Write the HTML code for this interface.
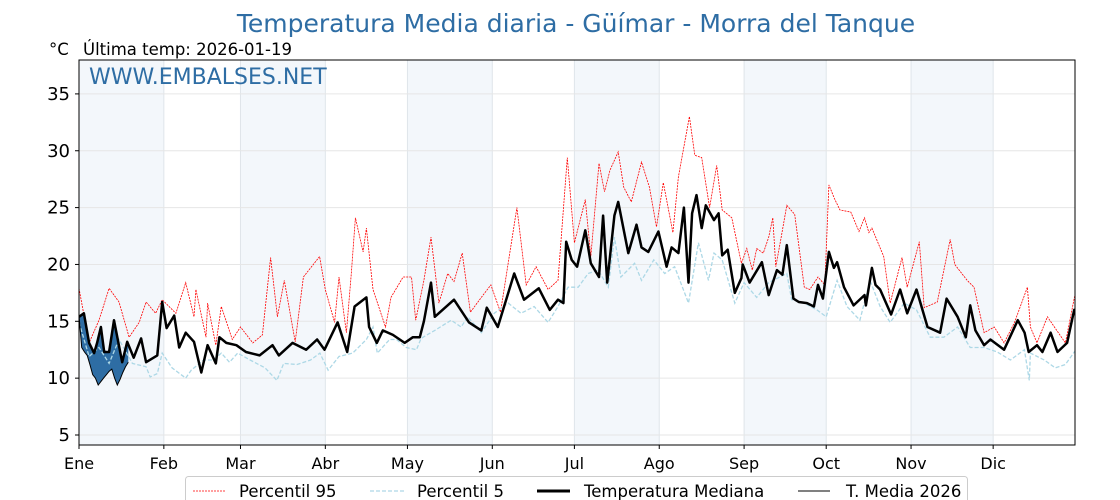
<!DOCTYPE html>
<html><head><meta charset="utf-8"><style>
html,body{margin:0;padding:0;background:#fff;width:1120px;height:500px;overflow:hidden}
svg text{font-family:"DejaVu Sans","Liberation Sans",sans-serif}
</style></head><body>
<svg id="chart" width="1120" height="500" viewBox="0 0 1120 500" xmlns="http://www.w3.org/2000/svg">
<defs><clipPath id="plotclip"><rect x="79" y="60" width="996" height="385"/></clipPath></defs>
<text x="576" y="32" text-anchor="middle" font-size="25" fill="#2e6da4">Temperatura Media diaria - Güímar - Morra del Tanque</text>
<text x="49" y="55" font-size="16.5" fill="#000">°C</text>
<text x="83" y="55" font-size="16.5" fill="#000">Última temp: 2026-01-19</text>
<g id="bands" clip-path="url(#plotclip)"></g><g id="grid" clip-path="url(#plotclip)"></g><g id="series" clip-path="url(#plotclip)"></g>
<rect x="79" y="60" width="996" height="385" fill="none" stroke="#000" stroke-width="1"/>
<text x="89" y="84" font-size="22" fill="#2e6da4">WWW.EMBALSES.NET</text>
<g id="axes"></g>
<g>
<rect x="185.5" y="476.5" width="782" height="30" rx="3" fill="#fff" stroke="#ccc"/>
<line x1="193" y1="491" x2="225" y2="491" stroke="red" stroke-width="0.8" stroke-dasharray="2,1"/>
<text x="239" y="497" font-size="16.5">Percentil 95</text>
<line x1="370" y1="491" x2="405" y2="491" stroke="#add8e6" stroke-width="1.3" stroke-dasharray="4,2"/>
<text x="417" y="497" font-size="16.5">Percentil 5</text>
<line x1="537" y1="491" x2="570" y2="491" stroke="#000" stroke-width="3"/>
<text x="584" y="497" font-size="16.5">Temperatura Mediana</text>
<line x1="798" y1="491" x2="830" y2="491" stroke="#000" stroke-width="1"/>
<text x="846" y="497" font-size="16.5">T. Media 2026</text>
</g>
</svg>
<script>
const monthLabels=["Ene","Feb","Mar","Abr","May","Jun","Jul","Ago","Sep","Oct","Nov","Dic"];
const monthStarts=[0,31,59,90,120,151,181,212,243,273,304,334];
const yTicks=[5,10,15,20,25,30,35];
const medianDays=[0,1.8,3.7,5.5,6.6,8,9.2,11,12.8,15.8,17.6,20,22.7,24.5,28.6,30.4,32,34.8,36.6,39,42,44.7,47,50,51.3,53.8,57.5,61,66,70.7,73,78,83,87,89.7,94.5,98,100.7,105,106,108.8,111,114.7,119,122,124.5,126,128.6,130,137,142.5,147,149,153,159,162.6,168,172,175,177,178,180,182,185,187,190,191.5,193,195.6,197,200.7,203.7,205.5,208,211.7,214.7,216.5,219,221,222.7,224,225.6,227.5,229,232,233.7,235,237,239.6,242,242.5,245,249.5,252,255,257,258.6,261,263,266,268.5,270,271.8,274,275.8,277,279.5,283,287,287.5,289.7,291,292.7,296.7,300,302.6,306,310,314.6,317,321,324,325.6,327.5,330.7,333,338,343,345.5,347,350,352,355,357.5,361,363.6,364.8];
const medianVals=[15.4,15.7,13.1,12.2,13.1,14.5,12.3,12.3,15.1,11.4,13.2,11.8,13.5,11.4,12,16.7,14.4,15.5,12.7,14,13.2,10.5,12.9,11.3,13.6,13.1,12.9,12.3,12,12.9,12,13.1,12.5,13.4,12.5,14.9,12.3,16.3,17.1,14.5,13.1,14.2,13.8,13.1,13.6,13.6,15,18.4,15.4,16.9,14.9,14.2,16.2,14.5,19.2,16.9,17.9,16,16.9,16.6,22,20.4,19.8,23,20.1,18.9,24.3,18.4,24.3,25.5,21,23.5,21.5,21.1,22.9,19.8,21.5,21,25,18.4,24.5,26.1,23.2,25.2,23.9,24.5,20.8,21.3,17.5,18.8,20,18.4,20.2,17.3,19.5,19.1,21.7,17,16.7,16.6,16.3,18.2,17,21.1,19.7,20.2,18,16.4,17.3,16.4,19.7,18.2,17.8,15.6,17.8,15.7,17.8,14.5,14,17,15.4,13.6,16.4,14.2,12.9,13.4,12.5,15.1,14,12.3,12.9,12.3,14,12.3,13.1,16,15.4];
const p95Days=[0,3.7,7.3,11,14.6,18.3,22,24.5,28,30.4,35.4,39,42,42.7,46.4,47,50,52,56,59,63.5,67,70,72.5,75,79,82,87.9,90,93.4,95,97.7,99.5,101,103.8,105,107.4,112,114,118.4,121.5,123,126,128.6,131.5,134.7,137,140,143,147,150.5,154,160,163.4,167,171.4,175,178.4,181,185,187,190,192,194,197,199,201.8,205.5,208.4,211,213.5,217,219,223,225,227.5,230.4,233,235,238.5,242,244,246,247.6,250,252,253.5,254.6,256.4,258.6,261.5,265,267,270,272.5,274,276,278,282,285,287,288.6,289.7,294,296.4,300.7,302.6,307,308.8,313.6,318.3,320,324.5,327,330.7,334.4,338,341.8,346.5,347.6,350,353.8,357.5,360.4,363.7,364.8];
const p95Vals=[17.9,13.1,15.1,17.9,16.7,13.6,14.9,16.7,15.7,16.9,15.7,18.4,15.4,17.8,13.6,16.6,12.9,16.3,13.4,14.5,13.1,13.8,20.6,15.4,18.6,13.2,18.9,20.7,17.8,14.9,18.9,14,19.2,24.1,21.1,23.2,17.8,14.5,17.1,18.9,18.9,15.1,18.6,22.4,16.6,19.2,18.5,21,15.8,17.1,18.2,15.8,25,18.2,19.8,17.8,18.6,29.4,21.9,25.7,20.7,28.9,26.4,28.3,29.9,26.8,25.5,29,26.8,23.3,27.2,22.8,27.7,33,29.6,29.4,25,28.7,24.8,24.1,20.1,21.4,19.5,21.4,21,22.4,24.1,19.8,22.2,25.2,24.4,18,17.8,18.9,18.2,27,25.8,24.8,24.6,22.9,24.1,22.8,23.2,20.7,16.6,20.6,18,22,16.2,16.7,22.2,20,18.6,18,14,14.5,13.1,14.9,18,14.5,13.1,15.4,14.1,13.1,17.1,18];
const p5Days=[0,3.7,7.3,11,14.6,19.5,24.5,26,28.6,30.4,34,39,41,45.5,49,52,55,58,62.5,68,72.3,74.8,79.7,84.6,88,91,95,100,105,107.4,109,113.5,116,119.6,123.3,125,130,136,139.6,142,147,151.7,156.8,161.5,166.3,171.4,175,178.7,182.4,186,189.7,193.4,195.6,198,203,205.5,210,214,217.6,222.7,226.3,230,232,235,239.6,243,247.6,252,258.6,260.4,265,269.6,273,277,280.6,285.3,289,292.7,296.4,301.5,306,311,316,321,325.6,330.7,335.5,340.3,345.4,347.2,347.6,352.7,356.7,360.4,364.8];
const p5Vals=[14.9,11.9,12.7,11.3,13.4,11.3,11,10.1,10.4,12.2,10.9,10,10.7,11.6,11.6,12.2,11.4,12.2,11.6,10.9,9.8,11.3,11.2,11.6,12.2,10.7,11.9,12.2,13.4,14.5,12.2,13.4,13.4,12.7,12.5,13.5,14.2,15.1,14.5,15.4,14,15.7,16.6,15.7,16.3,14.9,16.3,18,18,19.2,19.5,18,22.4,18.9,20.1,18.6,20.4,19.2,19.8,16.6,21.9,18.6,21,20.4,16.6,18.4,17.1,18.4,19.2,16.9,16.6,16,15.4,18.6,16.3,15.1,18.6,16.3,14.9,16.6,16,13.6,13.6,14.5,12.7,12.7,12.3,11.6,12.5,9.8,12.2,11.6,10.9,11.2,12.7];
const t2026Days=[0,1,2,3,4,5,6,7,8,9,10,11,12,13,14,15,16,17,18];
const t2026Vals=[15.5,12.7,12.3,12.0,11.2,10.3,10.0,9.4,9.7,10.0,10.3,10.6,10.8,10.0,9.4,9.9,10.5,11.0,11.4];

const X0=79,X1=1075,Y0=445,Y1=60,PXDAY=2.737;
const xs=d=>X0+d*PXDAY;
const ys=t=>435-(t-5)*11.37;
const NS="http://www.w3.org/2000/svg";
function mk(tag,parent,attrs){const e=document.createElementNS(NS,tag);for(const k in attrs)e.setAttribute(k,attrs[k]);parent.appendChild(e);return e;}
function interp(days,vals,d){if(d<=days[0])return vals[0];for(let i=1;i<days.length;i++){if(days[i]>=d){const f=(d-days[i-1])/(days[i]-days[i-1]);return vals[i-1]+f*(vals[i]-vals[i-1]);}}return vals[vals.length-1];}
const gBands=document.getElementById('bands'),gGrid=document.getElementById('grid'),gSeries=document.getElementById('series'),gAxes=document.getElementById('axes');
monthStarts.forEach((m,i)=>{
  if(i%2===0){const end=i+1<monthStarts.length?monthStarts[i+1]:365;
    const b=mk('rect',gBands,{x:xs(m),y:Y1,width:xs(end)-xs(m),height:Y0-Y1,fill:'#f3f7fb'});
    
    }
  const g=mk('line',gGrid,{x1:xs(m),x2:xs(m),y1:Y1,y2:Y0,stroke:'#dfe5ea','stroke-width':1});
  
  
  const tk=mk('line',gAxes,{x1:xs(m),x2:xs(m),y1:Y0,y2:Y0+4,stroke:'#000'});
  
  
  const t=mk('text',gAxes,{x:xs(m),y:469,'font-size':16,'text-anchor':'middle'});
  t.textContent=monthLabels[i];
  
  
});
yTicks.forEach(v=>{
  const g=mk('line',gGrid,{x1:X0,x2:X1,y1:ys(v),y2:ys(v),stroke:'#e6e6e6','stroke-width':1});
  
  
  const tk=mk('line',gAxes,{x1:X0-4,x2:X0,y1:ys(v),y2:ys(v),stroke:'#000'});
  
  
  const t=mk('text',gAxes,{x:70,y:ys(v)+6,'font-size':18,'text-anchor':'end'});
  t.textContent=v;
  
  
});
function pts(days,vals){return days.map((d,i)=>xs(d).toFixed(1)+','+ys(vals[i]).toFixed(1)).join(' ');}
const areaTop=t2026Days.map((d,i)=>xs(d).toFixed(1)+','+ys(t2026Vals[i]).toFixed(1));
const areaBot=t2026Days.slice().reverse().map(d=>xs(d).toFixed(1)+','+ys(interp(medianDays,medianVals,d)).toFixed(1));
const area=mk('polygon',gSeries,{points:areaTop.concat(areaBot).join(' '),fill:'#2e6da4',stroke:'none'});


const p95=mk('polyline',gSeries,{points:pts(p95Days,p95Vals),fill:'none',stroke:'red','stroke-width':0.8,'stroke-dasharray':'2,1'});


const p5=mk('polyline',gSeries,{points:pts(p5Days,p5Vals),fill:'none',stroke:'#add8e6','stroke-width':1.3,'stroke-dasharray':'4,2'});


const med=mk('polyline',gSeries,{points:pts(medianDays,medianVals),fill:'none',stroke:'#000','stroke-width':2.5,'stroke-linejoin':'round'});


const t26=mk('polyline',gSeries,{points:pts(t2026Days,t2026Vals),fill:'none',stroke:'#000','stroke-width':1});


</script>
</body></html>
